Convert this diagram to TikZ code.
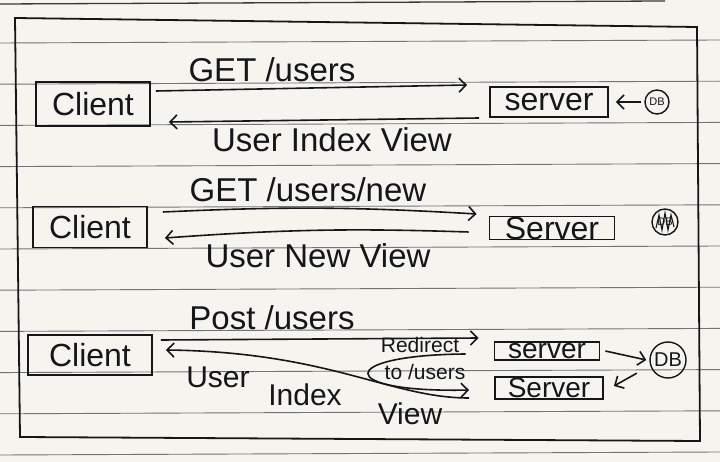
\documentclass[tikz,border=0pt]{standalone}
\usepackage{fontspec}
\setmainfont{Liberation Sans}
\usetikzlibrary{arrows.meta}
\definecolor{paper}{RGB}{246,244,239}
\definecolor{rule}{RGB}{115,115,115}
\definecolor{ink}{RGB}{22,22,26}

\begin{document}
\begin{tikzpicture}[x=1pt, y=-1pt,
    box/.style={draw=ink, line width=1.8pt, inner sep=0pt, text=ink},
    client/.style={box, minimum width=114pt, minimum height=44pt, font=\fontsize{32}{34}\selectfont},
    srv/.style={box, font=\fontsize{32}{34}\selectfont},
    db/.style={circle, draw=ink, line width=1.4pt, inner sep=0pt, text=ink},
    flow/.style={-{Straight Barb[length=7pt,width=14pt]}, draw=ink, line width=1.6pt},
    lbl/.style={text=ink, inner sep=0pt, font=\fontsize{33}{35}\selectfont},
    note/.style={text=ink, inner sep=0pt, font=\fontsize{21}{23}\selectfont}]

    % paper
    \fill[paper] (0,0) rectangle (720,462);
    \useasboundingbox (0,0) rectangle (720,462);
    \foreach \k in {0,...,10}
        \draw[rule, line width=0.9pt] (0,{43+41.2*\k}) -- (720,{40+41.2*\k});
    \draw[ink!85, line width=1.3pt] (0,4) -- (665,1);
    \draw[ink, line width=1.8pt] (15,18) -- (697,27) -- (700,441) -- (20,437) -- cycle;

    % GET /users
    \node[client] (client1) at (93,104) {Client};
    \node[srv, minimum width=118pt, minimum height=30pt] (server1) at (549,102) {server};
    \node[db, minimum size=24pt, font=\fontsize{11}{12}\selectfont] (db1) at (657,102) {DB};
    \draw[flow] ([xshift=5,yshift=13]client1.east) -- ([xshift=-22,yshift=17]server1.west);
    \draw[flow] ([xshift=-10,yshift=-16]server1.west) -- ([xshift=18,yshift=-18]client1.east);
    \draw[flow] ([xshift=-3]db1.west) -- ([xshift=7]server1.east);
    \node[lbl] (get1) at (272,70) {GET /users};
    \node[lbl] (view1) at (332,140) {User Index View};

    % GET /users/new
    \node[client, minimum height=41pt] (client2) at (90,227) {Client};
    \node[srv, minimum width=125pt, minimum height=23pt] (server2) at (552,228) {Server};
    \node[db, minimum size=26pt, font=\fontsize{11}{12}\selectfont] (db2) at (665,222) {DB};
    \draw[ink, line width=1.1pt] ([shift={(-9,6)}]db2.center) -- ++(3,-13) -- ++(3,15) -- ++(3,-17) -- ++(3,17) -- ++(3,-15) -- ++(3,12);
    \draw[flow] ([xshift=15,yshift=15]client2.east) to[bend left=3] ([xshift=-12,yshift=14]server2.west);
    \draw[flow] ([xshift=-20,yshift=-4]server2.west) to[bend right=3] ([xshift=17,yshift=-11]client2.east);
    \node[lbl] (get2) at (308,190) {GET /users/new};
    \node[lbl] (view2) at (318,256) {User New View};

    % POST /users
    \node[client, minimum width=124pt, minimum height=40pt] (client3) at (90,355) {Client};
    \node[srv, minimum width=105pt, minimum height=18pt, font=\fontsize{28}{30}\selectfont] (server3a) at (547,351) {server};
    \node[srv, minimum width=108pt, minimum height=22pt, font=\fontsize{28}{30}\selectfont] (server3b) at (549,388) {Server};
    \node[db, minimum size=36pt, font=\fontsize{20}{22}\selectfont] (db3) at (668,360) {DB};
    \draw[flow] ([xshift=8,yshift=15]client3.east) -- ([xshift=-15,yshift=13]server3a.west);
    \draw[flow] ([xshift=5]server3a.east) -- ([xshift=-3]db3.west);
    \draw[flow] ([xshift=-18]db3.south west) -- ([xshift=10,yshift=2]server3b.east);
    \draw[flow] ([xshift=-28,yshift=-3]server3a.west) .. controls (335,355) and (335,393) .. ([xshift=-25,yshift=-2]server3b.west);
    \draw[flow] ([xshift=-25,yshift=-10]server3b.west) .. controls (390,398) and (330,352) .. ([xshift=13,yshift=5]client3.east);
    \node[lbl] (post3) at (272,318) {Post /users};
    \node[note] (redir) at (420,345) {Redirect};
    \node[note] (tousers) at (425,372) {to /users};
    \node[lbl, font=\fontsize{30}{32}\selectfont] (user3) at (218,377) {User};
    \node[lbl, font=\fontsize{30}{32}\selectfont] (index3) at (305,395) {Index};
    \node[lbl, font=\fontsize{30}{32}\selectfont] (view3) at (410,414) {View};
\end{tikzpicture}
\end{document}
